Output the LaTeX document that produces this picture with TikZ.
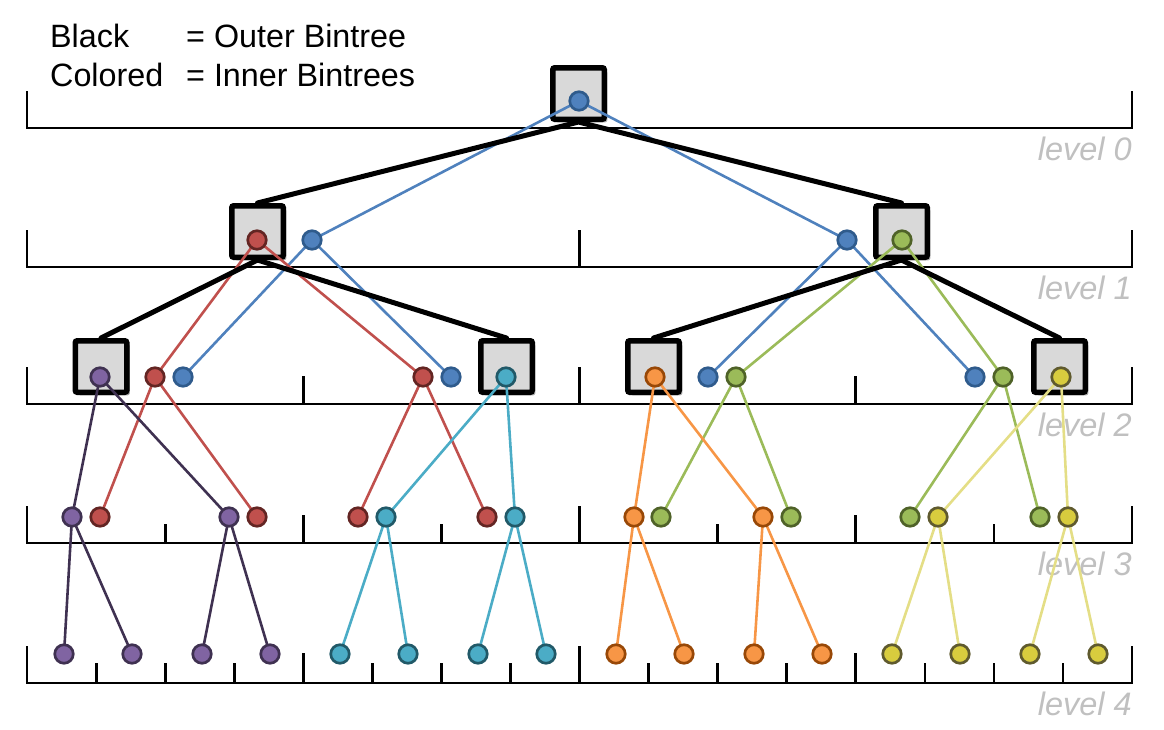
\documentclass[tikz,border=0pt]{standalone}
\usepackage{fontspec}
\setmainfont{Liberation Sans}
\usetikzlibrary{shadows}
\definecolor{boxgray}{HTML}{D9D9D9}
\definecolor{lvlgray}{HTML}{C0C0C0}
\definecolor{bluef}{HTML}{4F81BD}\definecolor{blued}{HTML}{2F5B8C}
\definecolor{redf}{HTML}{C0504D}\definecolor{redd}{HTML}{632523}
\definecolor{greenf}{HTML}{9BBB59}\definecolor{greend}{HTML}{4F6228}
\definecolor{purpf}{HTML}{8064A2}\definecolor{purpd}{HTML}{3F3151}
\definecolor{cyanf}{HTML}{4BACC6}\definecolor{cyand}{HTML}{215968}
\definecolor{orgf}{HTML}{F79646}\definecolor{orgd}{HTML}{984807}
\definecolor{yelf}{HTML}{D8CC3E}\definecolor{yeld}{HTML}{5F5A2E}
\definecolor{yell}{HTML}{E4DE86}
\pgfdeclarelayer{bg}
\pgfdeclarelayer{edges}
\pgfsetlayers{bg,edges,main}
\begin{document}
\begin{tikzpicture}[x=1pt,y=-1pt,
  ruler/.style={line width=2.8pt, black},
  obox/.style={draw=black, line width=5.5pt, fill=boxgray, rounded corners=2pt,
     minimum size=51.5pt, inner sep=0pt,
     drop shadow={shadow xshift=3pt, shadow yshift=-3pt, opacity=0.35, fill=black}},
  dot/.style={circle, minimum size=18.5pt, inner sep=0pt, line width=2.7pt},
  bdot/.style={dot, fill=bluef, draw=blued},
  rdot/.style={dot, fill=redf, draw=redd},
  gdot/.style={dot, fill=greenf, draw=greend},
  pdot/.style={dot, fill=purpf, draw=purpd},
  cdot/.style={dot, fill=cyanf, draw=cyand},
  odot/.style={dot, fill=orgf, draw=orgd},
  ydot/.style={dot, fill=yelf, draw=yeld},
  outer/.style={line width=5pt, black, line cap=round},
  inner/.style={line width=2.6pt},
  legend/.style={font=\fontsize{32.3}{37}\selectfont, inner sep=0pt, anchor=base west},
  lvl/.style={font=\fontsize{32.5}{38}\selectfont\itshape, text=lvlgray, inner sep=0pt, anchor=base east}
]
\path[use as bounding box] (0,0) rectangle (1164,729);

% legend
\node[legend] (k1) at (50,47) {Black};
\node[legend] (v1) at (186,47) {= Outer Bintree};
\node[legend] (k2) at (50,86) {Colored};
\node[legend] (v2) at (186,86) {= Inner Bintrees};

\begin{pgfonlayer}{bg}
% rulers
\foreach \y/\lev in {128/0,267/1,404/2,543/3,683/4}{
  \draw[ruler] (27,\y-37) -- (27,\y) -- (1132,\y) -- (1132,\y-37);
  \node[lvl] (lbl\lev) at (1132,\y+32) {level \lev};
}
\foreach \y in {267,404,543,683}
  \draw[ruler] (579.5,\y) -- (579.5,\y-37);
\foreach \y/\h in {404/28,543/28,683/30}
  \foreach \x in {303.25,855.75}
    \draw[ruler] (\x,\y) -- (\x,\y-\h);
\foreach \y/\h in {543/19,683/20}
  \foreach \x in {165.1,441.4,717.6,993.9}
    \draw[ruler] (\x,\y) -- (\x,\y-\h);
\foreach \x in {96.1,234.2,372.3,510.4,648.7,786.8,924.9,1063}
  \draw[ruler] (\x,683) -- (\x,663);
% boxes
\node[obox] (B0) at (578.5,93.5) {};
\node[obox] (B1a) at (257.5,231.5) {};
\node[obox] (B1b) at (901.5,231.5) {};
\node[obox] (B2a) at (101,366.5) {};
\node[obox] (B2b) at (506.5,366.5) {};
\node[obox] (B2c) at (653.5,366.5) {};
\node[obox] (B2d) at (1059.5,366.5) {};
\end{pgfonlayer}

% level 0
\node[bdot] (c0) at (579,101) {};
% level 1
\node[rdot] (r1) at (257,240) {};
\node[bdot] (u1a) at (312,240) {};
\node[bdot] (u1b) at (847,240) {};
\node[gdot] (g1) at (902,240) {};
% level 2
\node[pdot] (p2) at (100,377) {};
\node[rdot] (r2a) at (155,377) {};
\node[bdot] (u2a) at (183,377) {};
\node[rdot] (r2b) at (423,377) {};
\node[bdot] (u2b) at (451,377) {};
\node[cdot] (c2) at (506,377) {};
\node[odot] (o2) at (655,377) {};
\node[bdot] (u2c) at (708,377) {};
\node[gdot] (g2a) at (736,377) {};
\node[bdot] (u2d) at (975,377) {};
\node[gdot] (g2b) at (1003,377) {};
\node[ydot] (y2) at (1061,377) {};
% level 3
\node[pdot] (p3a) at (72,517) {};
\node[rdot] (r3a) at (100,517) {};
\node[pdot] (p3b) at (229,517) {};
\node[rdot] (r3b) at (257,517) {};
\node[rdot] (r3c) at (358,517) {};
\node[cdot] (c3a) at (386,517) {};
\node[rdot] (r3d) at (487,517) {};
\node[cdot] (c3b) at (515,517) {};
\node[odot] (o3a) at (634,517) {};
\node[gdot] (g3a) at (661,517) {};
\node[odot] (o3b) at (763,517) {};
\node[gdot] (g3b) at (791,517) {};
\node[gdot] (g3c) at (910,517) {};
\node[ydot] (y3a) at (938,517) {};
\node[gdot] (g3d) at (1040,517) {};
\node[ydot] (y3b) at (1068,517) {};
% level 4
\node[pdot] (p4a) at (64,654) {};
\node[pdot] (p4b) at (132,654) {};
\node[pdot] (p4c) at (202,654) {};
\node[pdot] (p4d) at (270,654) {};
\node[cdot] (c4a) at (340,654) {};
\node[cdot] (c4b) at (408,654) {};
\node[cdot] (c4c) at (478,654) {};
\node[cdot] (c4d) at (546,654) {};
\node[odot] (o4a) at (616,654) {};
\node[odot] (o4b) at (684,654) {};
\node[odot] (o4c) at (754,654) {};
\node[odot] (o4d) at (822,654) {};
\node[ydot] (y4a) at (892,654) {};
\node[ydot] (y4b) at (960,654) {};
\node[ydot] (y4c) at (1030,654) {};
\node[ydot] (y4d) at (1098,654) {};

\begin{pgfonlayer}{edges}
\draw[inner, bluef] (c0.center) -- (u1a.center) (c0.center) -- (u1b.center)
  (u1a.center) -- (u2a.center) (u1a.center) -- (u2b.center)
  (u1b.center) -- (u2c.center) (u1b.center) -- (u2d.center);
\draw[inner, redf] (r1.center) -- (r2a.center) (r1.center) -- (r2b.center)
  (r2a.center) -- (r3a.center) (r2a.center) -- (r3b.center)
  (r2b.center) -- (r3c.center) (r2b.center) -- (r3d.center);
\draw[inner, greenf] (g1.center) -- (g2a.center) (g1.center) -- (g2b.center)
  (g2a.center) -- (g3a.center) (g2a.center) -- (g3b.center)
  (g2b.center) -- (g3c.center) (g2b.center) -- (g3d.center);
\draw[inner, purpd] (p2.center) -- (p3a.center) (p2.center) -- (p3b.center)
  (p3a.center) -- (p4a.center) (p3a.center) -- (p4b.center)
  (p3b.center) -- (p4c.center) (p3b.center) -- (p4d.center);
\draw[inner, cyanf] (c2.center) -- (c3a.center) (c2.center) -- (c3b.center)
  (c3a.center) -- (c4a.center) (c3a.center) -- (c4b.center)
  (c3b.center) -- (c4c.center) (c3b.center) -- (c4d.center);
\draw[inner, orgf] (o2.center) -- (o3a.center) (o2.center) -- (o3b.center)
  (o3a.center) -- (o4a.center) (o3a.center) -- (o4b.center)
  (o3b.center) -- (o4c.center) (o3b.center) -- (o4d.center);
\draw[inner, yell] (y2.center) -- (y3a.center) (y2.center) -- (y3b.center)
  (y3a.center) -- (y4a.center) (y3a.center) -- (y4b.center)
  (y3b.center) -- (y4c.center) (y3b.center) -- (y4d.center);
% outer bintree
\draw[outer] (B0.south) -- (B1a.north) (B0.south) -- (B1b.north)
  (B1a.south) -- (B2a.north) (B1a.south) -- (B2b.north)
  (B1b.south) -- (B2c.north) (B1b.south) -- (B2d.north);
\end{pgfonlayer}
\end{tikzpicture}
\end{document}
